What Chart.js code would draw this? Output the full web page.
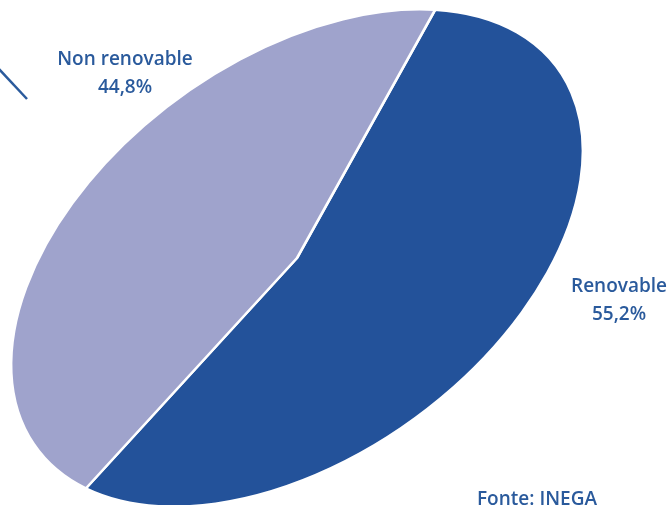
<!DOCTYPE html>
<html>
<head>
<meta charset="utf-8">
<script src="https://cdn.jsdelivr.net/npm/chart.js@4/dist/chart.umd.min.js"></script>
<style>
  html, body { margin: 0; padding: 0; background: #fff; }
  #wrap { position: relative; width: 670px; height: 505px; overflow: hidden; }
</style>
</head>
<body>
<div id="wrap"><canvas id="pieChart" width="670" height="505"></canvas></div>
<script>
// data
const categories = ['Renovable', 'Non renovable'];
const shares = [55.2, 44.8];
const sliceColors = ['#23529a', '#9fa3cc'];
const sourceNote = 'Fonte: INEGA';

// the pie is squeezed into a tilted ellipse
const ellipse = { cx: 297, cy: 258, a: 323, b: 199, tilt: 36 };
const textColor = '#2a5a9c';
const labelPos = [[619, 287], [125, 60]];

const fmt = v => v.toFixed(1).replace('.', ',') + '%';

const ellipsePlugin = {
  id: 'ellipse',
  beforeDatasetsDraw(chart) {
    const arc = chart.getDatasetMeta(0).data[0];
    const ctx = chart.ctx;
    ctx.save();
    ctx.translate(ellipse.cx, ellipse.cy);
    ctx.rotate(-ellipse.tilt * Math.PI / 180);
    ctx.scale(ellipse.a / arc.outerRadius, ellipse.b / arc.outerRadius);
    ctx.translate(-arc.x, -arc.y);
  },
  afterDatasetsDraw(chart) {
    chart.ctx.restore();
  },
  afterDraw(chart) {
    const ctx = chart.ctx;
    ctx.save();
    // stray leader line at the top left
    ctx.strokeStyle = textColor;
    ctx.lineWidth = 2.5;
    ctx.beginPath();
    ctx.moveTo(-1, 69);
    ctx.lineTo(27, 99);
    ctx.stroke();

    ctx.fillStyle = textColor;
    ctx.font = '600 19px "Open Sans"';
    ctx.textAlign = 'center';
    ctx.textBaseline = 'middle';
    categories.forEach((c, i) => {
      const [x, y] = labelPos[i];
      ctx.fillText(c, x, y);
      ctx.fillText(fmt(shares[i]), x, y + 28);
    });
    ctx.fillText(sourceNote, 537, 500);
    ctx.restore();
  }
};

new Chart(document.getElementById('pieChart'), {
  type: 'pie',
  data: {
    labels: categories,
    datasets: [{
      data: shares,
      backgroundColor: sliceColors,
      borderColor: '#ffffff',
      borderWidth: 3
    }]
  },
  options: {
    responsive: false,
    animation: false,
    rotation: 53,
    plugins: {
      legend: { display: false },
      tooltip: { enabled: false }
    }
  },
  plugins: [ellipsePlugin]
});
</script>
</body>
</html>
